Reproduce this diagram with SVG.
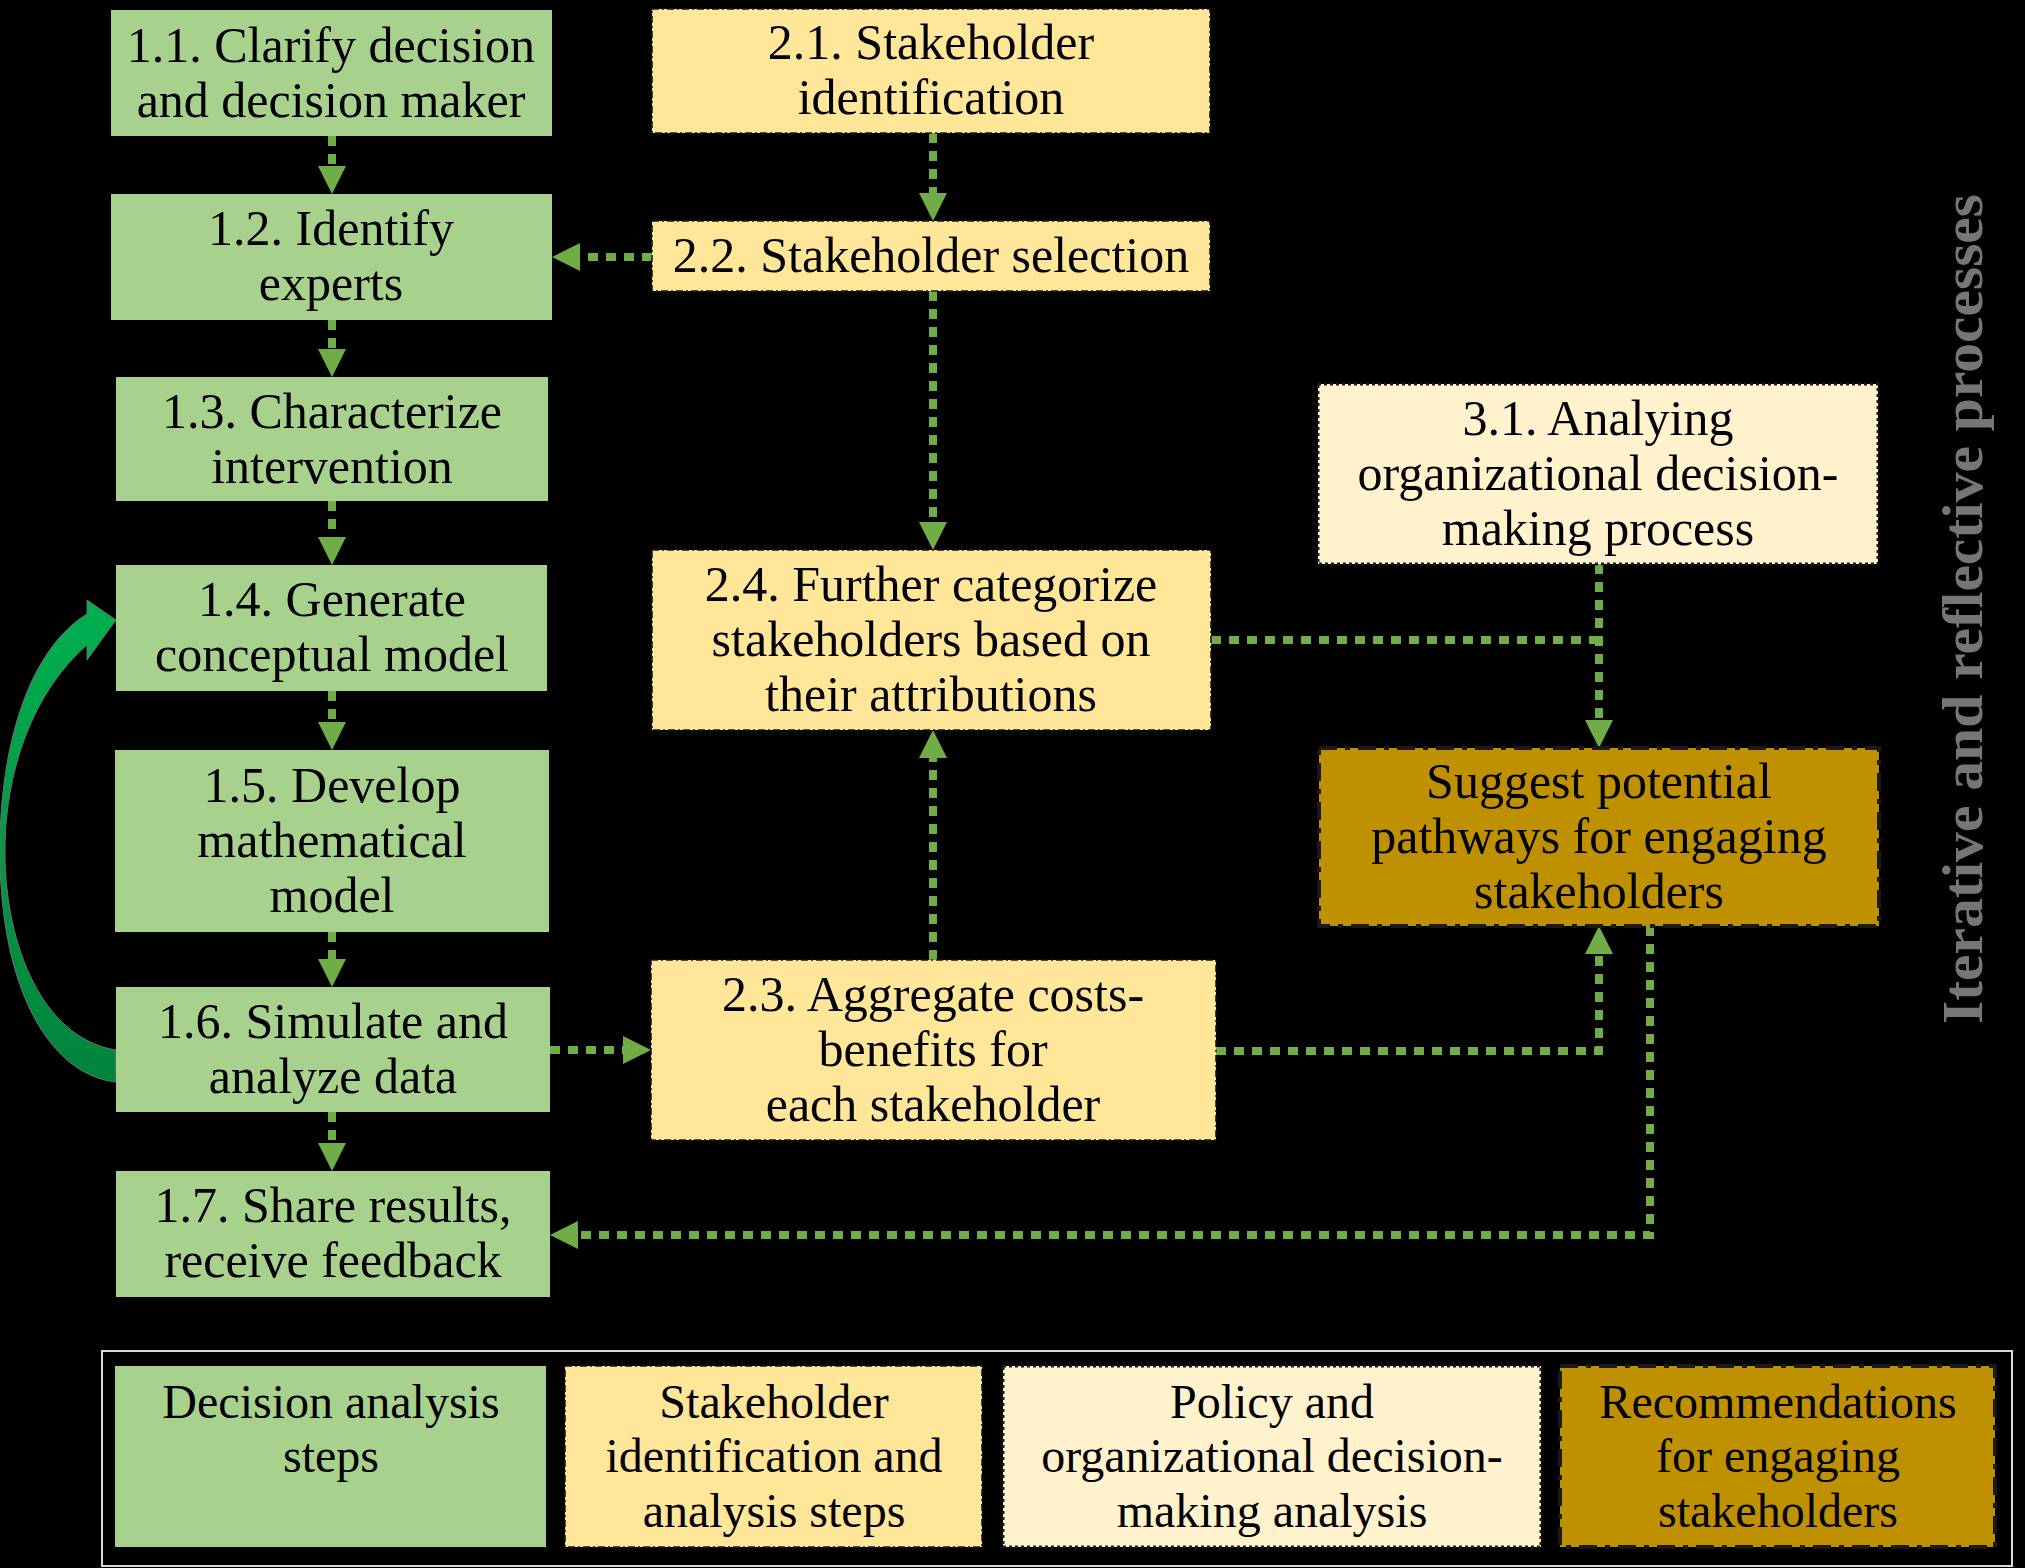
<svg xmlns="http://www.w3.org/2000/svg" width="2025" height="1568" viewBox="0 0 2025 1568">
<style>
.t{font-family:"Liberation Serif","Times New Roman",serif;font-size:50px;text-anchor:middle;fill:#000}
.lt{font-family:"Liberation Serif","Times New Roman",serif;font-size:48px;text-anchor:middle;fill:#000}
.g{fill:#A9D18E}
.y{fill:#FFE699;stroke:#1a1a1a;stroke-width:1.6;stroke-dasharray:7 3 2 3}
.c{fill:#FFF2CC;stroke:#1a1a1a;stroke-width:3;stroke-dasharray:3 3}
.o{fill:#BF9000;stroke:#1a1a1a;stroke-width:4;stroke-dasharray:18 8 5 8}
.ln{fill:none;stroke:#70AD47;stroke-width:8;stroke-dasharray:10 8}
.ar{marker-end:url(#ah)}
</style>
<defs>
<marker id="ah" viewBox="0 0 28 28" markerWidth="28" markerHeight="28" markerUnits="userSpaceOnUse" refX="8" refY="14" orient="auto">
<path d="M0,0 L28,14 L0,28 z" fill="#70AD47"/>
</marker>
<linearGradient id="cg" x1="0" y1="0" x2="0" y2="1">
<stop offset="0" stop-color="#00B050"/>
<stop offset="1" stop-color="#00843C"/>
</linearGradient>
</defs>
<rect x="0" y="0" width="2025" height="1568" fill="#000"/>

<g id="connectors">
<path class="ln ar" d="M332,136 V174"/>
<path class="ln ar" d="M332,320 V357"/>
<path class="ln ar" d="M332,501 V545"/>
<path class="ln ar" d="M332,691 V730"/>
<path class="ln ar" d="M332,932 V967"/>
<path class="ln ar" d="M332,1112 V1151"/>
<path class="ln ar" d="M933,133 V201"/>
<path class="ln ar" d="M652,257 H572"/>
<path class="ln ar" d="M933,291 V530"/>
<path class="ln ar" d="M933,960 V750"/>
<path class="ln ar" d="M550,1050 H631"/>
<path class="ln" d="M1211,640 H1599"/>
<path class="ln ar" d="M1599,564 V728"/>
<path class="ln ar" d="M1216,1051 H1599 V946"/>
<path class="ln ar" d="M1650,926 V1235 H570"/>
<path id="loop" d="M116,1050 C50,1040 8,960 5,860 C3,770 35,690 87,645 L87,660 L116,620 L87,600 L87,614 C28,650 -2,750 0,860 C2,990 50,1075 116,1082 Z" fill="url(#cg)" stroke="#6f6f6f" stroke-width="1"/>
</g>

<g id="n11"><rect class="g" x="111" y="10" width="441" height="126"/>
<text class="t" x="331" y="62">1.1. Clarify decision</text><text class="t" x="331" y="117">and decision maker</text></g>
<g id="n12"><rect class="g" x="111" y="194" width="441" height="126"/>
<text class="t" x="331" y="245">1.2. Identify</text><text class="t" x="331" y="300">experts</text></g>
<g id="n13"><rect class="g" x="116" y="377" width="432" height="124"/>
<text class="t" x="332" y="428">1.3. Characterize</text><text class="t" x="332" y="483">intervention</text></g>
<g id="n14"><rect class="g" x="116" y="565" width="431" height="126"/>
<text class="t" x="332" y="616">1.4. Generate</text><text class="t" x="332" y="671">conceptual model</text></g>
<g id="n15"><rect class="g" x="115" y="750" width="434" height="182"/>
<text class="t" x="332" y="802">1.5. Develop</text><text class="t" x="332" y="857">mathematical</text><text class="t" x="332" y="912">model</text></g>
<g id="n16"><rect class="g" x="116" y="987" width="434" height="125"/>
<text class="t" x="333" y="1038">1.6. Simulate and</text><text class="t" x="333" y="1093">analyze data</text></g>
<g id="n17"><rect class="g" x="116" y="1171" width="434" height="126"/>
<text class="t" x="333" y="1222">1.7. Share results,</text><text class="t" x="333" y="1277">receive feedback</text></g>

<g id="n21"><rect class="y" x="652" y="9" width="558" height="124"/>
<text class="t" x="931" y="59">2.1. Stakeholder</text><text class="t" x="931" y="114">identification</text></g>
<g id="n22"><rect class="y" x="652" y="221" width="558" height="70"/>
<text class="t" x="931" y="272">2.2. Stakeholder selection</text></g>
<g id="n24"><rect class="y" x="652" y="550" width="559" height="180"/>
<text class="t" x="931" y="601">2.4. Further categorize</text><text class="t" x="931" y="656">stakeholders based on</text><text class="t" x="931" y="711">their attributions</text></g>
<g id="n23"><rect class="y" x="651" y="960" width="565" height="180"/>
<text class="t" x="933" y="1011">2.3. Aggregate costs-</text><text class="t" x="933" y="1066">benefits for</text><text class="t" x="933" y="1121">each stakeholder</text></g>

<g id="n31"><rect class="c" x="1318" y="384" width="560" height="180"/>
<text class="t" x="1598" y="435">3.1. Analying</text><text class="t" x="1598" y="490">organizational decision-</text><text class="t" x="1598" y="545">making process</text></g>
<g id="nsug"><rect class="o" x="1319" y="748" width="560" height="178"/>
<text class="t" x="1599" y="798">Suggest potential</text><text class="t" x="1599" y="853">pathways for engaging</text><text class="t" x="1599" y="908">stakeholders</text></g>

<g id="side"><text transform="translate(1982,609) rotate(-90)" font-family="'Liberation Serif','Times New Roman',serif" font-size="57" font-weight="bold" fill="#767676" text-anchor="middle" textLength="830" lengthAdjust="spacingAndGlyphs">Iterative and reflective processes</text></g>

<g id="legend">
<rect x="102" y="1351" width="1910" height="215" fill="none" stroke="#d9d9d9" stroke-width="2"/>
<g id="leg1"><rect class="g" x="115" y="1366" width="431" height="181"/>
<text class="lt" x="331" y="1418">Decision analysis</text><text class="lt" x="331" y="1472">steps</text></g>
<g id="leg2"><rect class="y" x="565" y="1366" width="417" height="181"/>
<text class="lt" x="774" y="1418">Stakeholder</text><text class="lt" x="774" y="1472">identification and</text><text class="lt" x="774" y="1527">analysis steps</text></g>
<g id="leg3"><rect class="c" x="1003" y="1366" width="538" height="181"/>
<text class="lt" x="1272" y="1418">Policy and</text><text class="lt" x="1272" y="1472">organizational decision-</text><text class="lt" x="1272" y="1527">making analysis</text></g>
<g id="leg4"><rect class="o" x="1560" y="1366" width="435" height="181"/>
<text class="lt" x="1778" y="1418">Recommendations</text><text class="lt" x="1778" y="1472">for engaging</text><text class="lt" x="1778" y="1527">stakeholders</text></g>
</g>
</svg>
